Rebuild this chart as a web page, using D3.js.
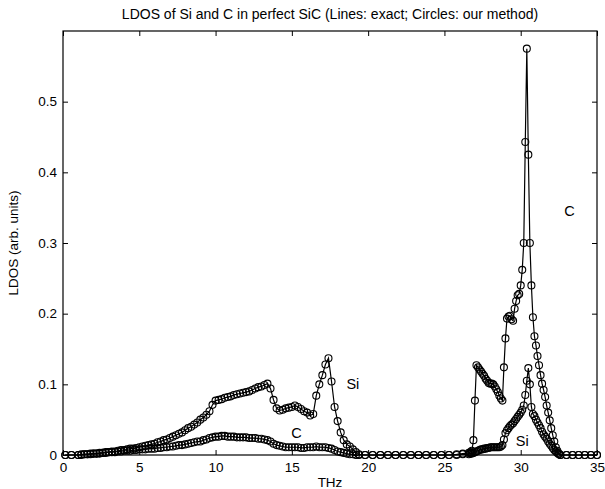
<!DOCTYPE html>
<html>
<head>
<meta charset="utf-8">
<script src="https://cdn.jsdelivr.net/npm/d3@7"></script>
<style>
  html, body { margin: 0; padding: 0; background: #fff; }
  svg { display: block; font-family: "Liberation Sans", Arial, sans-serif; }
</style>
</head>
<body>
<svg id="chart" width="605" height="489"></svg>
<script>
// Frequency samples (THz); dense inside the bands, sparse in the gap and tails
const freqLow = [0.15, 0.55];
const freqBand1 = d3.range(10, 195, 2).map((d) => d / 10);   // 1.0 .. 19.4
const freqGap = [19.8, 20.3, 20.8, 21.3, 21.8, 22.3, 22.8, 23.3, 23.8, 24.3, 24.8, 25.3, 25.8, 26.2];
const freqBand2 = d3.range(266, 327).map((d) => d / 10);     // 26.6 .. 32.6
const freqTail = [33.0, 33.4, 33.8, 34.2, 34.6, 35.0];

// LDOS of Si (arb. units)
const siLow = [0, 0];
const siBand1 = [
  0.000, 0.001, 0.001, 0.001, 0.002,
  0.002, 0.002, 0.003, 0.003, 0.004,
  0.004, 0.005, 0.005, 0.006, 0.007,
  0.007, 0.008, 0.009, 0.009, 0.010,
  0.011, 0.012, 0.013, 0.014, 0.015,
  0.016, 0.018, 0.019, 0.021, 0.022,
  0.024, 0.026, 0.028, 0.030, 0.032,
  0.035, 0.038, 0.040, 0.043, 0.046,
  0.050, 0.053, 0.057, 0.062, 0.071,
  0.077, 0.078, 0.079, 0.081, 0.082,
  0.083, 0.085, 0.086, 0.087, 0.088,
  0.089, 0.090, 0.092, 0.094, 0.096,
  0.097, 0.099, 0.101, 0.094, 0.078,
  0.066, 0.063, 0.064, 0.066, 0.067,
  0.068, 0.070, 0.068, 0.065, 0.062,
  0.060, 0.056, 0.058, 0.084, 0.100,
  0.113, 0.128, 0.137, 0.104, 0.068,
  0.048, 0.032, 0.021, 0.015, 0.012,
  0.008, 0.004, 0.001
];
const siGap = [0, 0, 0, 0, 0, 0, 0, 0, 0, 0, 0, 0, 0, 0.001];
const siBand2 = [
  0.001, 0.002, 0.002, 0.003,
  0.004, 0.005, 0.006, 0.007, 0.008, 0.008, 0.009, 0.009, 0.010, 0.010,
  0.011, 0.011, 0.011, 0.011, 0.011, 0.011, 0.011, 0.012, 0.014, 0.022,
  0.031, 0.035, 0.038, 0.041, 0.043, 0.045, 0.048, 0.051, 0.054, 0.057,
  0.060, 0.064, 0.070, 0.085, 0.105, 0.123, 0.100, 0.068, 0.058, 0.055,
  0.050, 0.046, 0.042, 0.038, 0.033, 0.029, 0.026, 0.023, 0.019, 0.016,
  0.013, 0.010, 0.007, 0.005, 0.003, 0.001, 0.000
];
const siTail = [0, 0, 0, 0, 0, 0];

// LDOS of C (arb. units)
const cLow = [0, 0];
const cBand1 = [
  0.000, 0.000, 0.001, 0.001, 0.001,
  0.002, 0.002, 0.002, 0.003, 0.003,
  0.004, 0.004, 0.004, 0.005, 0.005,
  0.006, 0.006, 0.006, 0.007, 0.007,
  0.008, 0.008, 0.008, 0.009, 0.009,
  0.009, 0.010, 0.010, 0.011, 0.011,
  0.012, 0.012, 0.013, 0.014, 0.014,
  0.015, 0.016, 0.017, 0.018, 0.019,
  0.019, 0.021, 0.022, 0.024, 0.025,
  0.026, 0.026, 0.027, 0.027, 0.026,
  0.026, 0.026, 0.025, 0.025, 0.025,
  0.025, 0.024, 0.024, 0.024, 0.023,
  0.023, 0.022, 0.021, 0.019, 0.016,
  0.014, 0.013, 0.012, 0.011, 0.011,
  0.011, 0.011, 0.011, 0.010, 0.010,
  0.011, 0.011, 0.011, 0.012, 0.011,
  0.011, 0.011, 0.010, 0.009, 0.007,
  0.005, 0.004, 0.003, 0.002, 0.001,
  0.001, 0.000, 0.000
];
const cGap = [0, 0, 0, 0, 0, 0, 0, 0, 0, 0, 0, 0, 0.001, 0.002];
const cBand2 = [
  0.003, 0.004, 0.006, 0.021,
  0.077, 0.127, 0.124, 0.121, 0.118, 0.115, 0.112, 0.108, 0.105, 0.102,
  0.101, 0.101, 0.100, 0.097, 0.093, 0.089, 0.084, 0.080, 0.077, 0.124,
  0.165, 0.193, 0.196, 0.197, 0.192, 0.190, 0.207, 0.218, 0.226, 0.228,
  0.240, 0.262, 0.300, 0.443, 0.575, 0.425, 0.300, 0.240, 0.195, 0.168,
  0.155, 0.140, 0.127, 0.113, 0.101, 0.092, 0.082, 0.070, 0.060, 0.049,
  0.038, 0.028, 0.019, 0.011, 0.006, 0.002, 0.000
];
const cTail = [0, 0, 0, 0, 0, 0];

// Axis ticks and text
const xTicks = [0, 5, 10, 15, 20, 25, 30, 35];
const yTicks = [0, 0.1, 0.2, 0.3, 0.4, 0.5];
const titleText = 'LDOS of Si and C in perfect SiC (Lines: exact; Circles: our method)';
const xLabel = 'THz';
const yLabel = 'LDOS (arb. units)';
// curve labels: [text, freq, ldos]
const curveLabels = [
  ['C', 33.2, 0.346],
  ['Si', 19.0, 0.100],
  ['C', 15.3, 0.031],
  ['Si', 30.1, 0.020]
];

const freq = [].concat(freqLow, freqBand1, freqGap, freqBand2, freqTail);
const ldosSi = [].concat(siLow, siBand1, siGap, siBand2, siTail);
const ldosC = [].concat(cLow, cBand1, cGap, cBand2, cTail);

const plot = { left: 63, right: 597, top: 31, bottom: 455 };
const svg = d3.select('#chart');

const x = d3.scaleLinear().domain([0, 35]).range([plot.left, plot.right]);
const y = d3.scaleLinear().domain([0, 0.6]).range([plot.bottom, plot.top]);

// Axes: MATLAB-style inward ticks on all four sides
const tickLen = 5;
svg.append('g')
  .attr('transform', `translate(0,${plot.bottom})`)
  .call(d3.axisBottom(x).tickValues(xTicks).tickSizeInner(-tickLen).tickSizeOuter(0).tickPadding(7))
  .call((g) => g.select('.domain').remove());
svg.append('g')
  .attr('transform', `translate(0,${plot.top})`)
  .call(d3.axisTop(x).tickValues(xTicks).tickFormat('').tickSizeInner(-tickLen).tickSizeOuter(0))
  .call((g) => g.select('.domain').remove());
svg.append('g')
  .attr('transform', `translate(${plot.left},0)`)
  .call(d3.axisLeft(y).tickValues(yTicks).tickFormat(d3.format('~g')).tickSizeInner(-tickLen).tickSizeOuter(0).tickPadding(6))
  .call((g) => g.select('.domain').remove());
svg.append('g')
  .attr('transform', `translate(${plot.right},0)`)
  .call(d3.axisRight(y).tickValues(yTicks).tickFormat('').tickSizeInner(-tickLen).tickSizeOuter(0))
  .call((g) => g.select('.domain').remove());

svg.selectAll('.tick text')
  .attr('fill', '#000')
  .style('font-size', '13.5px');
svg.selectAll('.tick line').attr('stroke', '#000');

// Plot box
svg.append('rect')
  .attr('x', plot.left)
  .attr('y', plot.top)
  .attr('width', plot.right - plot.left)
  .attr('height', plot.bottom - plot.top)
  .attr('fill', 'none')
  .attr('stroke', '#000')
  .attr('stroke-width', 1.2);

// Curves: line (exact) plus circles (our method)
const series = [ldosSi, ldosC];
const line = d3.line()
  .x((d) => x(d[0]))
  .y((d) => y(d[1]));

series.forEach((vals) => {
  const pts = freq.map((f, i) => [f, vals[i]]);
  svg.append('path')
    .datum(pts)
    .attr('d', line)
    .attr('fill', 'none')
    .attr('stroke', '#000')
    .attr('stroke-width', 1.2);
  svg.append('g')
    .selectAll('circle')
    .data(pts)
    .enter()
    .append('circle')
    .attr('cx', (d) => x(d[0]))
    .attr('cy', (d) => y(d[1]))
    .attr('r', 3.5)
    .attr('fill', 'none')
    .attr('stroke', '#000')
    .attr('stroke-width', 1.1);
});

// Curve labels
svg.selectAll('.curve-label')
  .data(curveLabels)
  .enter()
  .append('text')
  .attr('class', 'curve-label')
  .attr('x', (d) => x(d[1]))
  .attr('y', (d) => y(d[2]))
  .attr('dy', '0.35em')
  .attr('text-anchor', 'middle')
  .style('font-size', '14.5px')
  .text((d) => d[0]);

// Title and axis labels
svg.append('text')
  .attr('x', (plot.left + plot.right) / 2)
  .attr('y', 19)
  .attr('text-anchor', 'middle')
  .style('font-size', '14px')
  .text(titleText);

svg.append('text')
  .attr('x', (plot.left + plot.right) / 2)
  .attr('y', 487)
  .attr('text-anchor', 'middle')
  .style('font-size', '13.5px')
  .text(xLabel);

svg.append('text')
  .attr('transform', `translate(18,${(plot.top + plot.bottom) / 2}) rotate(-90)`)
  .attr('text-anchor', 'middle')
  .style('font-size', '13.5px')
  .text(yLabel);
</script>
</body>
</html>
